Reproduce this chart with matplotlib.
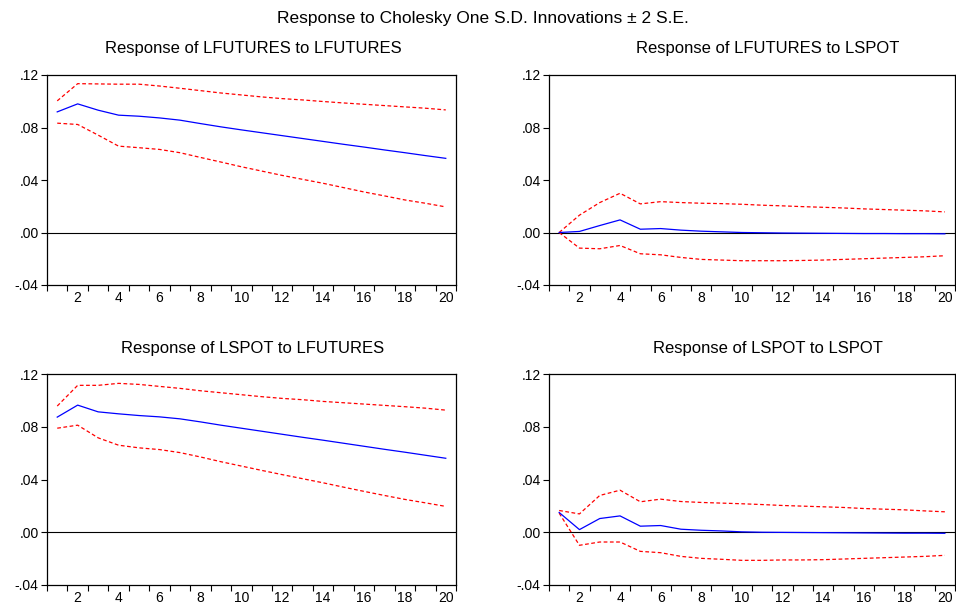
import numpy as np
import matplotlib
matplotlib.use("Agg")
import matplotlib.pyplot as plt
from matplotlib.ticker import FixedLocator, FuncFormatter

plt.rcParams["font.family"] = ["Liberation Sans", "DejaVu Sans"]

# ---------------------------------------------------------
# DATA
# ---------------------------------------------------------
periods = list(range(1, 21))

# Response of LFUTURES to LFUTURES
ff_resp = [0.0919, 0.0980, 0.0932, 0.0894, 0.0886, 0.0873, 0.0856, 0.0830, 0.0805, 0.0782,
           0.0760, 0.0738, 0.0716, 0.0694, 0.0672, 0.0651, 0.0629, 0.0608, 0.0586, 0.0565]
ff_upper = [0.1003, 0.1134, 0.1132, 0.1130, 0.1130, 0.1116, 0.1099, 0.1081, 0.1063, 0.1048,
            0.1033, 0.1020, 0.1010, 0.0998, 0.0987, 0.0977, 0.0967, 0.0957, 0.0947, 0.0934]
ff_lower = [0.0833, 0.0823, 0.0742, 0.0658, 0.0646, 0.0633, 0.0608, 0.0572, 0.0537, 0.0501,
            0.0468, 0.0435, 0.0405, 0.0375, 0.0342, 0.0309, 0.0279, 0.0248, 0.0223, 0.0195]

# Response of LFUTURES to LSPOT
fs_resp = [0.0, 0.0008, 0.0053, 0.0096, 0.0025, 0.0030, 0.0018, 0.0010, 0.0005, 0.0,
           -0.0002, -0.0004, -0.0005, -0.0006, -0.0007, -0.0008, -0.0008, -0.0009, -0.0009, -0.0010]
fs_upper = [0.0, 0.0132, 0.0228, 0.0299, 0.0218, 0.0235, 0.0228, 0.0223, 0.0220, 0.0215,
            0.0208, 0.0203, 0.0197, 0.0192, 0.0187, 0.0180, 0.0175, 0.0170, 0.0165, 0.0157]
fs_lower = [0.0, -0.0119, -0.0124, -0.0099, -0.0162, -0.0170, -0.0190, -0.0205, -0.0210, -0.0215,
            -0.0215, -0.0215, -0.0213, -0.0210, -0.0205, -0.0200, -0.0195, -0.0190, -0.0185, -0.0177]

# Response of LSPOT to LFUTURES
sf_resp = [0.0873, 0.0964, 0.0913, 0.0898, 0.0885, 0.0875, 0.0860, 0.0837, 0.0812, 0.0789,
           0.0766, 0.0743, 0.0720, 0.0698, 0.0675, 0.0652, 0.0629, 0.0607, 0.0584, 0.0561]
sf_upper = [0.0957, 0.1114, 0.1114, 0.1129, 0.1121, 0.1106, 0.1091, 0.1073, 0.1058, 0.1043,
            0.1028, 0.1015, 0.1005, 0.0992, 0.0982, 0.0972, 0.0962, 0.0952, 0.0941, 0.0926]
sf_lower = [0.0789, 0.0812, 0.0716, 0.0660, 0.0640, 0.0627, 0.0604, 0.0571, 0.0535, 0.0502,
            0.0469, 0.0437, 0.0406, 0.0375, 0.0342, 0.0310, 0.0279, 0.0249, 0.0223, 0.0196]

# Response of LSPOT to LSPOT
ss_resp = [0.0150, 0.0020, 0.0104, 0.0124, 0.0046, 0.0051, 0.0023, 0.0015, 0.0010, 0.0003,
           0.0, -0.0001, -0.0002, -0.0003, -0.0004, -0.0005, -0.0006, -0.0007, -0.0007, -0.0008]
ss_upper = [0.0165, 0.0139, 0.0279, 0.0319, 0.0231, 0.0251, 0.0233, 0.0226, 0.0221, 0.0216,
            0.0210, 0.0203, 0.0198, 0.0193, 0.0188, 0.0180, 0.0175, 0.0170, 0.0162, 0.0155]
ss_lower = [0.0145, -0.0099, -0.0074, -0.0074, -0.0145, -0.0155, -0.0183, -0.0198, -0.0205, -0.0213,
            -0.0213, -0.0210, -0.0210, -0.0208, -0.0203, -0.0198, -0.0193, -0.0188, -0.0183, -0.0175]

titles = ["Response of LFUTURES to LFUTURES", "Response of LFUTURES to LSPOT",
          "Response of LSPOT to LFUTURES", "Response of LSPOT to LSPOT"]
y_ticks = [-0.04, 0.00, 0.04, 0.08, 0.12]
x_labels = [2, 4, 6, 8, 10, 12, 14, 16, 18, 20]

panels = [(ff_resp, ff_upper, ff_lower), (fs_resp, fs_upper, fs_lower),
          (sf_resp, sf_upper, sf_lower), (ss_resp, ss_upper, ss_lower)]

# ---------------------------------------------------------
# PLOT
# ---------------------------------------------------------
W, H = 956, 603
fig = plt.figure(figsize=(W / 100, H / 100), dpi=100)

# axes boxes in pixels: left, top, right, bottom
boxes = [(47, 75, 456, 285), (549, 75, 955, 285),
         (47, 374, 456, 585), (549, 374, 955, 585)]
# title centres in pixels (x, y)
title_pos = [(253, 48), (768, 48), (253, 348), (768, 348)]


def ytick_fmt(v, pos):
    s = f"{v:.2f}"
    return s.replace("0.", ".")


for (l, t, r, b), title, (tx, ty), (resp, up, lo) in zip(boxes, titles, title_pos, panels):
    ax = fig.add_axes([l / W, 1 - b / H, (r - l) / W, (b - t) / H])
    ax.axhline(0, color="black", lw=0.8, zorder=1)
    ax.plot(periods, up, color="red", lw=0.9, ls=(0, (3, 2)), zorder=2)
    ax.plot(periods, lo, color="red", lw=0.9, ls=(0, (3, 2)), zorder=2)
    ax.plot(periods, resp, color="blue", lw=0.9, zorder=3)
    ax.set_xlim(0.5, 20.5)
    ax.set_ylim(-0.04, 0.12)
    ax.yaxis.set_major_locator(FixedLocator(y_ticks))
    ax.yaxis.set_major_formatter(FuncFormatter(ytick_fmt))
    # tick marks between periods, labels on even periods
    ax.xaxis.set_major_locator(FixedLocator(x_labels))
    ax.xaxis.set_minor_locator(FixedLocator(np.arange(0.5, 21, 1)))
    ax.tick_params(axis="x", which="major", length=0, labelsize=10, pad=4)
    ax.tick_params(axis="x", which="minor", length=4, width=0.8, direction="out")
    ax.tick_params(axis="y", length=4, width=0.8, direction="out", labelsize=10, pad=2)
    for sp in ax.spines.values():
        sp.set_linewidth(0.9)
    fig.text(tx / W, 1 - ty / H, title, fontsize=12, ha="center", va="center")

fig.text(483 / W, 1 - 19 / H, "Response to Cholesky One S.D. Innovations \u00b1 2 S.E.",
         fontsize=12.5, ha="center", va="center")

fig.savefig("out.png", dpi=100)
